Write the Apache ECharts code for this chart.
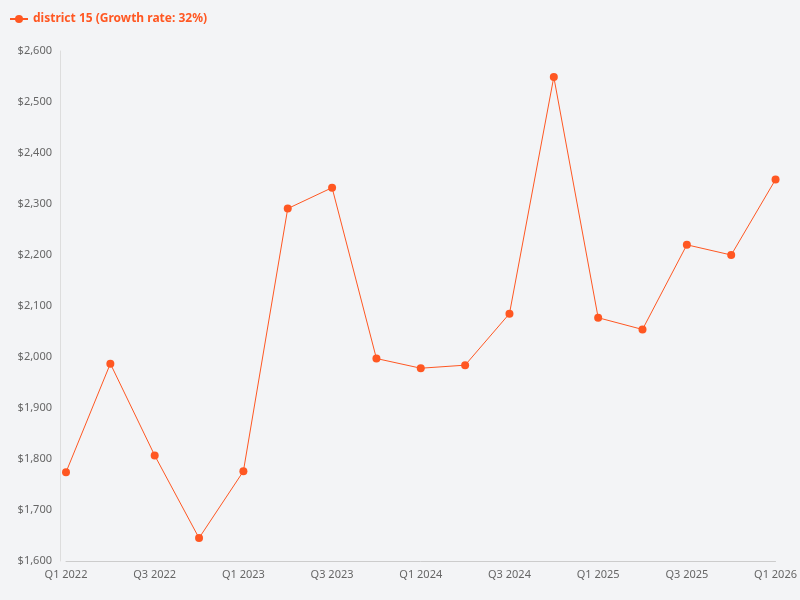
<!DOCTYPE html>
<html>
<head>
<meta charset="utf-8">
<script src="https://cdn.jsdelivr.net/npm/echarts@6/dist/echarts.min.js"></script>
<style>html,body{margin:0;background:#f3f4f6}#chart{width:800px;height:600px}</style>
</head>
<body>
<div id="chart"></div>
<script>
var quarters = ['Q1 2022','Q2 2022','Q3 2022','Q4 2022','Q1 2023','Q2 2023','Q3 2023','Q4 2023',
    'Q1 2024','Q2 2024','Q3 2024','Q4 2024','Q1 2025','Q2 2025','Q3 2025','Q4 2025','Q1 2026'];
var prices = [1774, 1987, 1807, 1645, 1776, 2291, 2332, 1997, 1978, 1984, 2085, 2549, 2077, 2054, 2220, 2200, 2348];
var seriesName = 'district 15 (Growth rate: 32%)';

var chart = echarts.init(document.getElementById('chart'));
chart.setOption({
    backgroundColor: '#f3f4f6',
    textStyle: { fontFamily: 'Noto Sans' },
    legend: {
        left: 4, top: 8,
        itemWidth: 18, itemHeight: 10,
        textStyle: { color: '#ff5722', fontWeight: 'bold', fontSize: 12 },
        data: [seriesName]
    },
    grid: { left: 66, right: 23, top: 51, bottom: 39 },
    xAxis: {
        type: 'category', boundaryGap: false, data: quarters,
        axisLine: { lineStyle: { color: '#cccccc' } },
        axisTick: { show: false },
        axisLabel: { interval: 1, color: '#666', fontSize: 11 }
    },
    yAxis: {
        type: 'value', min: 1600, max: 2600, interval: 100, offset: 6,
        axisLine: { show: true, lineStyle: { color: '#dddddd' } },
        splitLine: { show: false },
        axisLabel: { color: '#666', fontSize: 11, formatter: function (v) { return '$' + v.toLocaleString('en-US'); } }
    },
    series: [{
        name: seriesName, type: 'line', data: prices,
        symbol: 'circle', symbolSize: 8,
        itemStyle: { color: '#ff5722' },
        lineStyle: { width: 1, color: '#ff5722' }
    }]
});
</script>
</body>
</html>
